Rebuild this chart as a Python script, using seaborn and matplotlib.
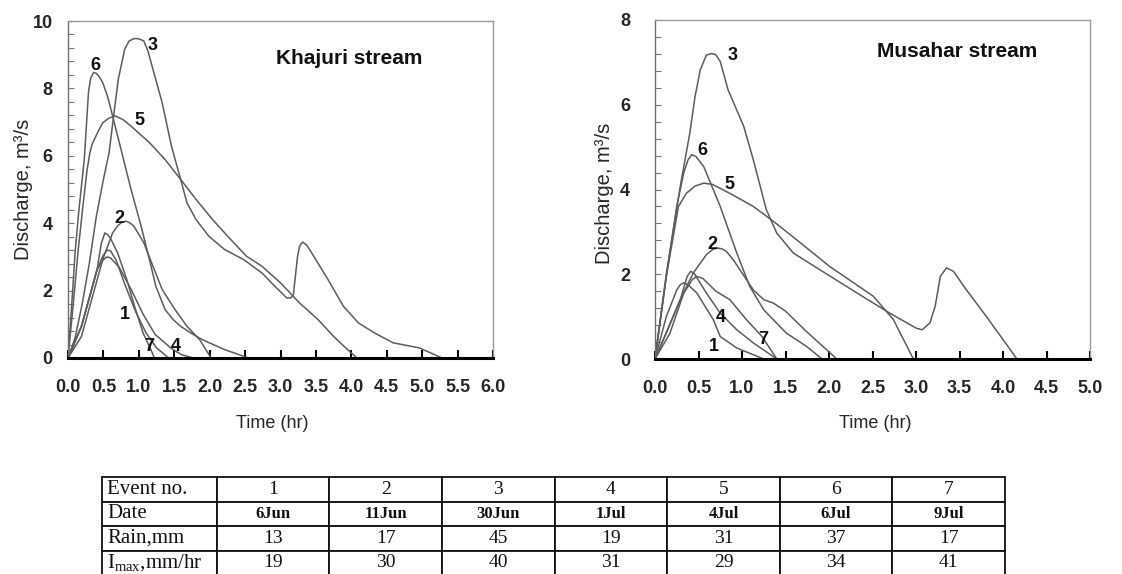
import numpy as np
import pandas as pd
import matplotlib
matplotlib.use("Agg")
import matplotlib.pyplot as plt
import seaborn as sns
from matplotlib.ticker import MultipleLocator, FormatStrFormatter

# ---------------- data: Khajuri stream ----------------
kh_t1 = [0, 0.19, 0.32, 0.41, 0.49, 0.55, 0.6, 0.68, 0.8, 0.95, 1.1, 1.25, 1.42]
kh_q1 = [0, 0.94, 1.93, 2.62, 3.02, 3.2, 3.18, 2.9, 2.2, 1.4, 0.75, 0.3, 0]
kh_t2 = [0, 0.19, 0.36, 0.49, 0.63, 0.7, 0.76, 0.82, 0.88, 0.93, 1.07, 1.2, 1.33, 1.51,
         1.68, 1.86, 2.02]
kh_q2 = [0, 0.64, 1.93, 2.92, 3.71, 3.92, 4.03, 4.06, 4.0, 3.91, 3.42, 2.72, 2.03, 1.44,
         0.94, 0.54, 0]
kh_t3 = [0, 0.1, 0.2, 0.3, 0.4, 0.5, 0.58, 0.65, 0.71, 0.8, 0.86, 0.93, 1.0, 1.07, 1.13,
         1.2, 1.33, 1.46, 1.59, 1.68, 1.81, 1.99, 2.21, 2.48, 2.74, 2.92, 3.09, 3.14, 3.18,
         3.2, 3.24, 3.27, 3.31, 3.37, 3.44, 3.67, 3.89, 4.1, 4.33, 4.59, 4.96, 5.28]
kh_q3 = [0, 0.6, 1.6, 2.8, 4.2, 5.3, 6.09, 7.28, 8.27, 9.16, 9.4, 9.48, 9.47, 9.41, 9.1,
         8.56, 7.57, 6.29, 5.3, 4.6, 4.1, 3.61, 3.22, 2.92, 2.52, 2.13, 1.78, 1.78, 1.85,
         2.23, 3.0, 3.32, 3.44, 3.35, 3.12, 2.33, 1.53, 1.04, 0.74, 0.45, 0.3, 0]
kh_t4 = [0, 0.19, 0.32, 0.41, 0.49, 0.55, 0.6, 0.72, 0.9, 1.06, 1.23, 1.45, 1.6, 1.77]
kh_q4 = [0, 0.94, 1.93, 2.62, 2.9, 3.0, 2.97, 2.7, 2.0, 1.3, 0.7, 0.3, 0.1, 0]
kh_t5 = [0, 0.07, 0.14, 0.21, 0.27, 0.31, 0.34, 0.42, 0.49, 0.58, 0.67, 0.78, 0.89, 1.15,
         1.37, 1.59, 1.81, 2.04, 2.3, 2.52, 2.74, 3.0, 3.27, 3.53, 3.75, 3.92, 4.08]
kh_q5 = [0, 1.5, 3.12, 4.5, 5.59, 6.1, 6.34, 6.7, 6.98, 7.12, 7.18, 7.07, 6.88, 6.39,
         5.89, 5.3, 4.7, 4.11, 3.51, 3.02, 2.72, 2.23, 1.63, 1.14, 0.64, 0.3, 0]
kh_t6 = [0, 0.05, 0.1, 0.15, 0.19, 0.23, 0.26, 0.29, 0.32, 0.36, 0.4, 0.44, 0.49, 0.56,
         0.63, 0.76, 0.89, 1.02, 1.15, 1.24, 1.37, 1.48, 1.59, 1.75, 1.9, 2.21, 2.55]
kh_q6 = [0, 1.5, 3.12, 4.3, 5.1, 5.9, 6.9, 7.9, 8.3, 8.47, 8.45, 8.35, 8.17, 7.75,
         7.18, 6.09, 5.0, 4.01, 2.92, 2.13, 1.44, 1.15, 0.94, 0.72, 0.54, 0.25, 0]
kh_t7 = [0, 0.19, 0.32, 0.41, 0.47, 0.52, 0.56, 0.6, 0.7, 0.83, 0.94, 1.06, 1.17, 1.22]
kh_q7 = [0, 0.94, 1.93, 2.62, 3.4, 3.71, 3.66, 3.55, 3.12, 2.33, 1.53, 0.74, 0.25, 0]

# ---------------- data: Musahar stream ----------------
mu_t1 = [0, 0.13, 0.25, 0.29, 0.33, 0.38, 0.48, 0.67, 0.75, 0.94, 1.25]
mu_q1 = [0, 1.0, 1.63, 1.75, 1.8, 1.75, 1.56, 0.93, 0.53, 0.26, 0]
mu_t2 = [0, 0.29, 0.44, 0.59, 0.66, 0.71, 0.77, 0.82, 0.9, 1.13, 1.25, 1.36, 1.5, 1.74, 2.09]
mu_q2 = [0, 1.4, 2.03, 2.46, 2.58, 2.62, 2.6, 2.54, 2.34, 1.63, 1.4, 1.32, 1.13, 0.65, 0]
mu_t3 = [0, 0.13, 0.29, 0.4, 0.46, 0.52, 0.59, 0.65, 0.7, 0.75, 0.84, 1.02, 1.13, 1.28,
         1.4, 1.59, 1.9, 2.32, 2.7, 3.0, 3.07, 3.16, 3.22, 3.28, 3.35, 3.43, 3.58, 3.81,
         4.0, 4.16]
mu_q3 = [0, 2.0, 4.07, 5.33, 6.19, 6.82, 7.17, 7.21, 7.18, 7.02, 6.35, 5.49, 4.7, 3.52,
         2.97, 2.5, 2.1, 1.56, 1.08, 0.73, 0.69, 0.85, 1.24, 1.95, 2.15, 2.07, 1.63, 1.0,
         0.46, 0]
mu_t4 = [0, 0.13, 0.29, 0.37, 0.41, 0.45, 0.59, 0.75, 0.94, 1.13, 1.4]
mu_q4 = [0, 0.61, 1.4, 1.95, 2.07, 2.02, 1.56, 1.08, 0.69, 0.38, 0]
mu_t5 = [0, 0.13, 0.27, 0.36, 0.46, 0.56, 0.66, 0.86, 1.13, 1.36, 1.63, 2.01, 2.51, 2.74,
         2.97]
mu_q5 = [0, 1.95, 3.6, 3.91, 4.08, 4.15, 4.12, 3.91, 3.6, 3.25, 2.81, 2.18, 1.48, 0.93, 0]
mu_t6 = [0, 0.13, 0.25, 0.33, 0.38, 0.42, 0.47, 0.56, 0.75, 0.94, 1.09, 1.25, 1.51, 1.74,
         1.92]
mu_q6 = [0, 1.95, 3.6, 4.39, 4.7, 4.82, 4.78, 4.54, 3.6, 2.5, 1.71, 1.16, 0.61, 0.3, 0]
mu_t7 = [0, 0.17, 0.33, 0.43, 0.48, 0.55, 0.7, 0.86, 1.05, 1.23, 1.4]
mu_q7 = [0, 0.6, 1.55, 1.88, 1.95, 1.9, 1.6, 1.4, 0.93, 0.53, 0]

# curve label positions
kh_label_x = [0.8, 0.73, 1.19, 1.52, 1.01, 0.38, 1.15]
kh_label_y = [1.28, 4.15, 9.28, 0.35, 7.06, 8.69, 0.35]
mu_label_x = [0.68, 0.66, 0.89, 0.75, 0.85, 0.55, 1.24]
mu_label_y = [0.3, 2.7, 7.17, 0.97, 4.11, 4.93, 0.46]

# table
events = ["1", "2", "3", "4", "5", "6", "7"]
dates = ["6Jun", "11Jun", "30Jun", "1Jul", "4Jul", "6Jul", "9Jul"]
rain_mm = ["13", "17", "45", "19", "31", "37", "17"]
imax = ["19", "30", "40", "31", "29", "34", "41"]
row_labels = ["Event no.", "Date", "Rain,mm", r"$\mathrm{I_{max}}$,mm/hr"]

# ---------------- style ----------------
sns.set_style("white")
plt.rcParams["font.family"] = ["Liberation Sans", "DejaVu Sans"]
plt.rcParams["font.weight"] = "bold"
plt.rcParams["mathtext.fontset"] = "custom"
plt.rcParams["mathtext.rm"] = "Liberation Serif:weight=normal"
plt.rcParams["mathtext.it"] = "Liberation Serif:italic:weight=normal"

W, H = 1122, 574
fig = plt.figure(figsize=(W / 100, H / 100), dpi=100)
fig.patch.set_facecolor("white")

ax1 = fig.add_axes([68 / W, (H - 358) / H, 425 / W, 337 / H])
ax2 = fig.add_axes([655 / W, (H - 359) / H, 435 / W, 339 / H])

line_color = "#5c5c5c"


def make_df(prefix):
    g = globals()
    frames = []
    for i in range(1, 8):
        t = g[f"{prefix}_t{i}"]
        q = g[f"{prefix}_q{i}"]
        frames.append(pd.DataFrame({"t": t, "q": q, "event": str(i)}))
    return pd.concat(frames, ignore_index=True)


def draw(ax, df, xmax, ymax, title, title_xy, lx, ly, ypad, xlab_coords, ylab_coords):
    sns.lineplot(data=df, x="t", y="q", units="event", estimator=None, sort=False,
                 color=line_color, linewidth=1.1, ax=ax, legend=False)
    ax.set_xlim(0, xmax)
    ax.set_ylim(0, ymax)
    ax.xaxis.set_major_locator(MultipleLocator(0.5))
    ax.xaxis.set_major_formatter(FormatStrFormatter("%.1f"))
    ax.yaxis.set_major_locator(MultipleLocator(2))
    ax.yaxis.set_minor_locator(MultipleLocator(0.4))
    ax.tick_params(axis="x", which="major", direction="in", length=6, width=1.5,
                   color="black", pad=15, labelsize=13, bottom=True)
    ax.tick_params(axis="y", which="both", direction="in", length=4, width=0.8,
                   color="#777777", pad=ypad, labelsize=13, left=True)
    for s in ["top", "right"]:
        ax.spines[s].set_color("#9a9a9a")
        ax.spines[s].set_linewidth(1.0)
    ax.spines["left"].set_color("#707070")
    ax.spines["left"].set_linewidth(1.0)
    ax.spines["bottom"].set_color("black")
    ax.spines["bottom"].set_linewidth(2.2)
    ax.set_xlabel("Time (hr)", fontsize=13, fontweight="normal")
    ax.set_ylabel("Discharge, m\u00b3/s", fontsize=14.5, fontweight="normal")
    ax.xaxis.set_label_coords(*xlab_coords)
    ax.yaxis.set_label_coords(*ylab_coords)
    ax.text(title_xy[0], title_xy[1], title, fontsize=15, fontweight="bold",
            ha="left", va="center", color="#111111")
    for i in range(7):
        ax.text(lx[i], ly[i], str(i + 1), fontsize=13, fontweight="bold",
                ha="center", va="center", color="#111111")


draw(ax1, make_df("kh"), 6, 10, "Khajuri stream", (2.94, 8.88),
     kh_label_x, kh_label_y, 11, (0.48, -0.17), (-0.083, 0.5))
draw(ax2, make_df("mu"), 5, 8, "Musahar stream", (2.55, 7.25),
     mu_label_x, mu_label_y, 18, (0.506, -0.166), (-0.094, 0.49))

# ---------------- table ----------------
tx0, tx1 = 101.7, 1005
tab_top, row_h = 477, 24.5
tab_h = row_h * 4
tax = fig.add_axes([tx0 / W, (H - tab_top - tab_h) / H, (tx1 - tx0) / W, tab_h / H])
tax.axis("off")
cell_text = [[row_labels[0]] + events,
             [row_labels[1]] + dates,
             [row_labels[2]] + rain_mm,
             [row_labels[3]] + imax]
total_w = tx1 - tx0
first_w = 115 / total_w
other_w = (1 - first_w) / 7
tbl = tax.table(cellText=cell_text, cellLoc="center", bbox=[0, 0, 1, 1],
                colWidths=[first_w] + [other_w] * 7)
tbl.auto_set_font_size(False)
for (r, c), cell in tbl.get_celld().items():
    cell.set_edgecolor("#111111")
    cell.set_linewidth(1.3)
    cell.set_facecolor("white")
    txt = cell.get_text()
    txt.set_fontfamily(["Liberation Serif", "DejaVu Serif"])
    txt.set_color("#111111")
    if c == 0:
        cell._loc = "left"
        cell.PAD = 0.05
        txt.set_horizontalalignment("left")
        txt.set_fontsize(15)
        txt.set_fontweight("normal")
    elif r == 1:
        txt.set_fontsize(12)
        txt.set_fontweight("bold")
    else:
        txt.set_fontsize(14)
        txt.set_fontweight("normal")

fig.savefig("out.png", dpi=100, facecolor="white")
